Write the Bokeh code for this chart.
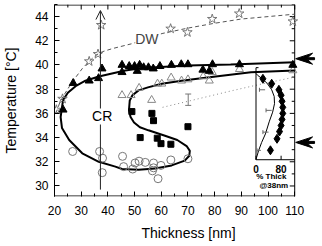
import math
from bokeh.plotting import figure
from bokeh.models import Range1d, Arrow, OpenHead, Label, FixedTicker
from bokeh.embed import file_html
from bokeh.resources import INLINE

# ---------------- data ----------------
x_ticks = [20, 30, 40, 50, 60, 70, 80, 90, 100, 110]
x_minor = [25, 35, 45, 55, 65, 75, 85, 95, 105]
y_ticks = [30, 32, 34, 36, 38, 40, 42, 44]
y_minor = [29, 31, 33, 35, 37, 39, 41, 43, 45]

star_x = [20.7, 23.0, 33.0, 36.3, 37.5, 63.5, 69.8, 79.1, 89.2, 109.3]
star_T = [36.3, 37.2, 40.3, 40.9, 43.3, 43.0, 42.7, 43.8, 44.25, 43.6]

tri_f_x = [23.2, 27.0, 33.0, 36.5, 37.8, 45.3, 45.3, 48.0, 50.0, 51.9, 51.0, 53.4, 55.2,
           57.0, 59.5, 63.8, 67.5, 70.0, 75.6, 78.0, 79.2, 89.3, 109.3]
tri_f_T = [36.3, 38.5, 38.7, 38.9, 39.7, 40.0, 39.4, 39.9, 39.9, 40.0, 39.5, 39.8, 39.8,
           39.7, 39.9, 40.0, 40.05, 40.05, 39.6, 39.5, 40.05, 40.05, 40.0]

tri_o_x = [45.3, 48.7, 51.7, 56.4, 58.6, 60.2, 63.7, 67.6, 70.0, 75.7, 78.0, 79.1, 89.3, 109.3]
tri_o_T = [37.5, 37.5, 38.1, 37.1, 38.45, 38.45, 38.95, 38.7, 38.8, 39.05, 38.7, 39.4, 39.65, 39.55]

sq_x = [49.0, 56.5, 57.1, 70.0, 52.1, 58.5, 59.9, 63.6]
sq_T = [36.15, 36.0, 35.4, 34.9, 34.0, 33.95, 33.5, 33.45]

circ_x = [26.8, 36.9, 38.0, 37.9, 45.5, 45.9, 49.3, 50.2, 51.7, 54.0, 57.1, 57.1, 56.7,
          58.8, 59.9, 63.6, 70.0]
circ_T = [32.85, 32.85, 32.3, 31.1, 32.45, 31.6, 31.4, 31.9, 32.05, 31.95, 31.9, 31.5,
          31.25, 30.6, 31.7, 32.15, 32.25]

curve_x = [110, 93.6, 75, 67.6, 60.2, 55, 51.5, 49.2, 48.2, 47.9, 48.5, 49.8, 52, 55.2,
           61.4, 66, 69.5, 70.7, 70.5, 68.8, 63.9, 57.7, 51.5, 45.3, 42.8, 36.6, 30.4,
           25.5, 22.8, 22.3, 23.2, 25, 27.9, 31.6, 36.6, 46.5, 53, 70, 86, 110]
curve_T = [39.55, 39.4, 38.9, 38.7, 38.45, 38.15, 37.9, 37.5, 37.07, 36.25, 35.7, 35.25,
           34.85, 34.6, 34.15, 33.8, 33.3, 32.9, 32.5, 32.1, 31.7, 31.44, 31.35, 31.4,
           31.6, 32.0, 32.7, 33.8, 34.8, 35.7, 37.1, 37.7, 38.25, 38.7, 39.05, 39.55,
           39.75, 39.95, 40.05, 40.22]

dw_x = [20.5, 22, 23.5, 25.5, 28, 30.4, 33, 35.4, 38, 41.6, 49, 55, 60.3, 70, 80, 90, 100, 110]
dw_T = [36.0, 36.9, 37.5, 38.2, 39.0, 39.7, 40.3, 40.8, 41.1, 41.35, 41.76, 42.2, 42.6,
        43.05, 43.45, 43.8, 44.0, 44.2]

dot_x = [60.5, 70, 86, 98, 110]
dot_T = [36.5, 37.0, 37.85, 38.45, 39.0]

eb_x = [70.1]
eb_T = [37.13]
eb_err = [0.47]

cr_x, cr_T = [37.2, 37.2], [29.7, 44.5]

arrow_T = [40.52, 33.6]

# inset (% thickness at 38 nm vs temperature)
ins_ticks = [0, 80]
dia_x = [22, 50, 73, 80, 83, 85.4, 85.4, 83, 80, 75, 67, 46]
dia_T = [38.86, 38.45, 37.95, 37.5, 37.0, 36.5, 36.0, 35.5, 35.0, 34.5, 33.9, 32.95]
ins_curve_x = [0, 8, 18, 30, 42, 53, 59, 58, 50, 35, 18, 5, 0]
ins_curve_T = [32.2, 32.9, 33.6, 34.3, 35.3, 36.1, 36.8, 37.4, 37.95, 38.5, 38.9, 39.15, 39.3]
ins_eb_x = [20, 41, 31, 9.5]
ins_eb_T = [37.95, 36.25, 34.45, 32.94]
ins_eb_err = [9, 9, 9, 6]

# ---------------- layout constants ----------------
X0, X1 = 20, 110
Y0, Y1 = 29.13, 45.0
PX_PER_X = 242.0 / (X1 - X0)
PX_PER_Y = 192.0 / (Y1 - Y0)
XF = X1 + 28 / PX_PER_X          # frame extends right of the axis to hold the side arrows
px_x = 1.0 / PX_PER_X
px_y = 1.0 / PX_PER_Y
INSET_X0 = 95.5           # main-axis x of inset's 0 %
INSET_SCALE = 0.1175      # main-axis units per %
INSET_BOT, INSET_TOP = 32.17, 39.78
FONT = "Liberation Sans"

p = figure(width=322, height=246, x_range=Range1d(X0, XF), y_range=Range1d(Y0, Y1),
           output_backend="svg", toolbar_location=None,
           min_border_left=52, min_border_right=0, min_border_top=4, min_border_bottom=50)
p.xgrid.visible = False
p.ygrid.visible = False
p.outline_line_color = None
p.background_fill_color = "white"
p.border_fill_color = "white"

p.extra_x_ranges = {"inset": Range1d((X0 - INSET_X0) / INSET_SCALE, (XF - INSET_X0) / INSET_SCALE)}

bottom = p.xaxis[0]
left = p.yaxis[0]
bottom.ticker = FixedTicker(ticks=x_ticks, minor_ticks=x_minor)
left.ticker = FixedTicker(ticks=y_ticks, minor_ticks=y_minor)
for ax in [bottom, left]:
    ax.major_tick_in = 5
    ax.major_tick_out = 0
    ax.minor_tick_in = 3
    ax.minor_tick_out = 0
    ax.axis_line_color = "black"
    ax.major_tick_line_color = "black"
    ax.minor_tick_line_color = "black"
    ax.major_label_text_font = FONT
    ax.major_label_text_font_size = "12px"
    ax.major_label_text_color = "black"
    ax.major_label_standoff = 6
    ax.axis_label_text_font = FONT
    ax.axis_label_text_font_size = "14px"
    ax.axis_label_text_font_style = "normal"
    ax.axis_label_text_color = "black"
bottom.axis_line_color = None
bottom.major_label_standoff = 9
bottom.axis_label_standoff = 7
bottom.axis_label = "Thickness [nm]"
left.axis_label = "Temperature [°C]"
left.axis_label_standoff = 13

# frame lines (bottom, top, right) and top/right inward ticks
p.segment(x0=[X0, X0, X1], y0=[Y0 + 0.5 * px_y, Y1 - 0.5 * px_y, Y0],
          x1=[X1, X1, X1], y1=[Y0 + 0.5 * px_y, Y1 - 0.5 * px_y, Y1],
          line_color="black", line_width=1)
p.segment(x0=x_ticks, y0=[Y1] * len(x_ticks), x1=x_ticks, y1=[Y1 - 5 * px_y] * len(x_ticks),
          line_color="black")
p.segment(x0=x_minor, y0=[Y1] * len(x_minor), x1=x_minor, y1=[Y1 - 3 * px_y] * len(x_minor),
          line_color="black")
p.segment(x0=[X1] * len(y_ticks), y0=y_ticks, x1=[X1 - 5 * px_x] * len(y_ticks), y1=y_ticks,
          line_color="black")
p.segment(x0=[X1] * len(y_minor), y0=y_minor, x1=[X1 - 3 * px_x] * len(y_minor), y1=y_minor,
          line_color="black")

# curves
p.line(dw_x, dw_T, line_dash="4 3", line_color="#555555", line_width=1)
p.line(dot_x, dot_T, line_dash="1 3", line_color="#888888", line_width=1)
p.line(curve_x, curve_T, line_color="black", line_width=2)

# vertical CR line with open arrow head
p.add_layout(Arrow(x_start=cr_x[0], y_start=cr_T[0], x_end=cr_x[1], y_end=cr_T[1],
                   line_color="#222222", line_width=1,
                   end=OpenHead(size=9, line_width=1, line_color="#222222")))

# markers
p.scatter(star_x, star_T, marker="star", size=10, fill_color=None, line_color="#777777", line_width=1)
p.scatter(circ_x, circ_T, marker="circle", size=8, fill_color=None, line_color="#777777", line_width=1)
p.scatter(tri_o_x, tri_o_T, marker="triangle", size=8, fill_color=None, line_color="#888888", line_width=1)
p.scatter(tri_f_x, tri_f_T, marker="triangle", size=8, fill_color="black", line_color="black")
p.scatter(sq_x, sq_T, marker="square", size=6, fill_color="black", line_color="black")

# error bar
lo = [t - e for t, e in zip(eb_T, eb_err)]
hi = [t + e for t, e in zip(eb_T, eb_err)]
p.segment(x0=eb_x, y0=lo, x1=eb_x, y1=hi, line_color="#777777", line_width=1)
p.scatter(eb_x * 2, lo + hi, marker="dash", size=6, line_color="#777777")

# text labels
p.add_layout(Label(x=37.85, y=35.75, text="CR", text_font=FONT, text_font_size="14px",
                   text_align="center", text_baseline="middle", text_color="black",
                   background_fill_color="white"))
p.add_layout(Label(x=54.6, y=42.18, text="DW", text_font=FONT, text_font_size="14px",
                   text_align="center", text_baseline="middle", text_color="#444444",
                   background_fill_color="white"))

# ---------------- inset ----------------
p.line([0, 0], [INSET_BOT, INSET_TOP], x_range_name="inset", line_color="black", line_width=1)
p.line([0, (X1 - INSET_X0) / INSET_SCALE], [INSET_BOT, INSET_BOT], x_range_name="inset",
       line_color="black", line_width=1)
p.segment(x0=ins_ticks, y0=[INSET_BOT] * len(ins_ticks), x1=ins_ticks,
          y1=[INSET_BOT + 4 * px_y] * len(ins_ticks), x_range_name="inset", line_color="black")
p.segment(x0=[0], y0=[INSET_TOP], x1=[8], y1=[INSET_TOP], x_range_name="inset", line_color="black")
p.line(ins_curve_x, ins_curve_T, x_range_name="inset", line_color="black", line_width=1)
p.segment(x0=[x - e for x, e in zip(ins_eb_x, ins_eb_err)], y0=ins_eb_T,
          x1=[x + e for x, e in zip(ins_eb_x, ins_eb_err)], y1=ins_eb_T,
          x_range_name="inset", line_color="#666666")
p.scatter([x - e for x, e in zip(ins_eb_x, ins_eb_err)], ins_eb_T, marker="dash", angle=math.pi / 2,
          size=4, x_range_name="inset", line_color="#666666")
p.scatter(dia_x, dia_T, marker="diamond", size=9, x_range_name="inset",
          fill_color="black", line_color="black")
for t in ins_ticks:
    p.add_layout(Label(x=t, y=31.43, x_range_name="inset", text=str(t), text_font=FONT,
                       text_font_size="10px", text_font_style="bold", text_align="center",
                       text_baseline="middle", text_color="black"))
p.add_layout(Label(x=49, y=30.79, x_range_name="inset", text="% Thick", text_font=FONT,
                   text_font_size="8px", text_font_style="bold", text_align="center",
                   text_baseline="middle", text_color="black"))
p.add_layout(Label(x=57, y=30.04, x_range_name="inset", text="@38nm", text_font=FONT,
                   text_font_size="8px", text_font_style="bold", text_align="center",
                   text_baseline="middle", text_color="black"))

# ---------------- side arrows (right of the axis) ----------------
shape = [(0, 0), (17, -5.5), (12, -1), (19, -1), (19, 1), (12, 1), (17, 5.5)]
for t in arrow_T:
    p.patch([X1 + 1 * px_x + dx * px_x for dx, dy in shape],
            [t + dy * px_y for dx, dy in shape],
            fill_color="black", line_color="black", line_width=1)

open("out.html", "w").write(file_html(p, INLINE))
